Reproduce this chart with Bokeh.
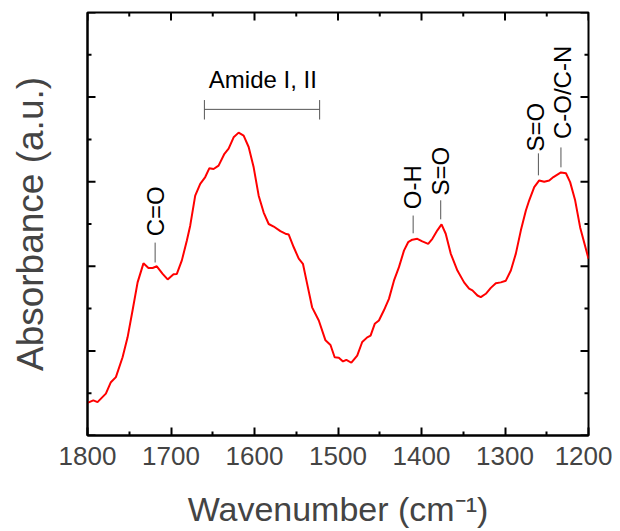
from math import pi
from bokeh.plotting import figure
from bokeh.models import Range1d, FixedTicker
from bokeh.core.properties import value
from bokeh.embed import file_html
from bokeh.resources import INLINE

# ---- data ----
wavenumber = [1800, 1793, 1788, 1778, 1772, 1766, 1758, 1752, 1746, 1740, 1733, 1727,
              1722, 1717, 1710, 1704, 1697, 1693, 1687, 1681, 1677, 1671, 1665, 1659,
              1654, 1649, 1643, 1636, 1631, 1625, 1619, 1613, 1607, 1601, 1595, 1589,
              1583, 1577, 1569, 1563, 1559, 1553, 1547, 1542, 1537, 1531, 1523, 1515,
              1509, 1504, 1499, 1494, 1490, 1484, 1477, 1471, 1465, 1461, 1456, 1451,
              1445, 1439, 1433, 1427, 1421, 1416, 1411, 1405, 1399, 1392, 1387, 1381,
              1376, 1371, 1365, 1357, 1349, 1343, 1339, 1333, 1329, 1323, 1317, 1311,
              1305, 1299, 1293, 1287, 1281, 1275, 1271, 1265, 1259, 1253, 1247, 1242,
              1233, 1227, 1222, 1216, 1210, 1200]
absorbance = [0.077, 0.083, 0.079, 0.099, 0.126, 0.138, 0.185, 0.232, 0.296, 0.362, 0.407, 0.396,
              0.396, 0.400, 0.382, 0.369, 0.381, 0.382, 0.414, 0.461, 0.496, 0.567, 0.595, 0.611,
              0.632, 0.630, 0.638, 0.666, 0.678, 0.705, 0.716, 0.709, 0.682, 0.634, 0.567, 0.527,
              0.500, 0.494, 0.483, 0.477, 0.475, 0.445, 0.418, 0.406, 0.359, 0.303, 0.272, 0.225,
              0.214, 0.185, 0.184, 0.175, 0.179, 0.172, 0.189, 0.221, 0.232, 0.236, 0.264, 0.272,
              0.296, 0.323, 0.366, 0.398, 0.437, 0.457, 0.463, 0.465, 0.459, 0.453, 0.465, 0.485,
              0.499, 0.477, 0.430, 0.390, 0.362, 0.347, 0.343, 0.331, 0.327, 0.335, 0.349, 0.360,
              0.362, 0.366, 0.390, 0.430, 0.485, 0.532, 0.556, 0.587, 0.603, 0.600, 0.603, 0.611,
              0.622, 0.620, 0.599, 0.556, 0.492, 0.418]

X_START, X_END = 1800, 1200
Y_MIN, Y_MAX = 0.0, 1.0
x_major = [1800, 1700, 1600, 1500, 1400, 1300, 1200]
x_minor = [1750, 1650, 1550, 1450, 1350, 1250]
y_major = [0.0, 0.2, 0.4, 0.6, 0.8, 1.0]
y_minor = [0.1, 0.3, 0.5, 0.7, 0.9]

ann_text = ["C=O", "O-H", "S=O", "S=O", "C-O/C-N"]
ann_x = [1719, 1411, 1377, 1263, 1231]
ann_y = [0.530, 0.587, 0.625, 0.729, 0.811]
lead_x = [1719, 1410, 1377, 1260, 1233]
lead_y0 = [0.409, 0.478, 0.511, 0.615, 0.634]
lead_y1 = [0.456, 0.520, 0.556, 0.667, 0.681]

amide_label = ["Amide I, II"]
amide_x = [1590]
amide_y = [0.842]
bracket_x0 = [1660, 1660, 1522]
bracket_x1 = [1522, 1660, 1522]
bracket_y0 = [0.771, 0.747, 0.747]
bracket_y1 = [0.771, 0.793, 0.793]

FONT = "Liberation Sans"

p = figure(width=612, height=531, output_backend="svg", toolbar_location=None,
           x_range=Range1d(X_START, X_END), y_range=Range1d(Y_MIN, Y_MAX),
           min_border_left=87, min_border_right=24, min_border_top=12, min_border_bottom=96)
p.xgrid.visible = False
p.ygrid.visible = False
p.outline_line_color = "black"
p.outline_line_width = 2

# spectrum
p.line(wavenumber, absorbance, line_color="#ff0000", line_width=2)

# annotations
p.segment(x0=lead_x, y0=lead_y0, x1=lead_x, y1=lead_y1, line_color="#555555", line_width=1)
p.text(x=ann_x, y=ann_y, text=ann_text, angle=pi / 2, text_align="center",
       text_baseline="middle", text_font=value(FONT), text_font_size="24px", text_color="black")
p.segment(x0=bracket_x0, y0=bracket_y0, x1=bracket_x1, y1=bracket_y1,
          line_color="#555555", line_width=1)
p.text(x=amide_x, y=amide_y, text=amide_label, text_align="center", text_baseline="middle",
       text_font=value(FONT), text_font_size="24px", text_color="black")

# mirrored inward ticks on top / left / right frame edges (half of each dash is clipped by the frame)
tick_kw = dict(marker="dash", line_color="black", line_width=2)
p.scatter(x=x_major, y=[Y_MAX] * len(x_major), size=16, angle=pi / 2, **tick_kw)
p.scatter(x=x_minor, y=[Y_MAX] * len(x_minor), size=8, angle=pi / 2, **tick_kw)
for edge in (X_START, X_END):
    p.scatter(x=[edge] * len(y_major), y=y_major, size=16, angle=0, **tick_kw)
    p.scatter(x=[edge] * len(y_minor), y=y_minor, size=8, angle=0, **tick_kw)

# bottom axis
xb = p.xaxis[0]
xb.ticker = FixedTicker(ticks=x_major, minor_ticks=x_minor)
xb.major_tick_in = 8
xb.major_tick_out = 0
xb.minor_tick_in = 4
xb.minor_tick_out = 0
xb.major_tick_line_width = 2
xb.minor_tick_line_width = 2
xb.axis_line_width = 2
xb.axis_label = "Wavenumber (cm\u207b\u00b9)"
xb.axis_label_text_font = FONT
xb.axis_label_text_font_style = "normal"
xb.axis_label_text_font_size = "34px"
xb.axis_label_standoff = 22
xb.major_label_text_font = FONT
xb.major_label_text_font_size = "26px"
xb.major_label_standoff = 11

# left axis: title only (ticks drawn above)
yl = p.yaxis[0]
yl.ticker = FixedTicker(ticks=[], minor_ticks=[])
yl.axis_line_width = 2
yl.axis_label = "Absorbance (a.u.)"
yl.axis_label_text_font = FONT
yl.axis_label_text_font_style = "normal"
yl.axis_label_text_font_size = "37px"
yl.axis_label_standoff = 37

open("out.html", "w").write(file_html(p, INLINE))
